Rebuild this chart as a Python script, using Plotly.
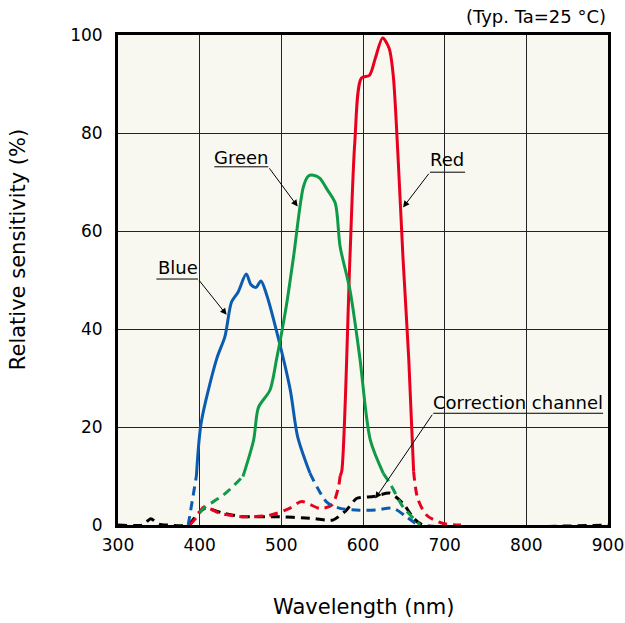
import plotly.graph_objects as go

# ---- data (wavelength nm, relative sensitivity %) ----
blue_wl  = [386, 396, 402, 421, 431, 439, 447, 457, 463, 469, 475, 482, 498, 511, 520, 535, 556, 572, 596, 617, 637, 653, 667]
blue_val = [0, 10, 21, 34, 38.5, 45.5, 47.5, 51.2, 49, 48.5, 49.8, 47, 37, 27.5, 18, 10.6, 4.6, 3.4, 3.0, 3.1, 3.4, 1.7, 0]
blue_solid = (396, 535)

green_wl  = [400, 407, 429, 453, 466, 472, 486, 494, 506, 515, 527, 533, 539, 547, 556, 566, 572, 584, 596, 609, 625, 633, 649, 670]
green_val = [2.5, 3.7, 6.1, 9.9, 17.3, 24, 27.5, 33.7, 44.6, 54.8, 69, 71.2, 71.4, 70.8, 68.5, 65.7, 56.8, 48, 34.3, 17.3, 10.5, 8.5, 3.7, 0]
green_solid = (453, 625)

red_wl  = [388, 398, 405, 425, 453, 486, 510, 525, 547, 562, 570, 572, 574, 584, 590, 598, 608, 615, 624, 632, 637, 643, 649, 656, 662, 667, 678, 698, 720]
red_val = [0, 2, 3.7, 2.4, 1.7, 2.0, 3.4, 4.8, 3.4, 4.1, 7.8, 10, 11, 54.5, 78.2, 91.2, 91.8, 95.2, 99.4, 97.3, 91.8, 74.8, 54.4, 34, 10.9, 5.4, 2, 0.3, 0]
red_solid = (572, 662)

corr_wl  = [300, 330, 340, 350, 360, 386, 398, 407, 429, 453, 494, 535, 563, 580, 592, 613, 633, 649, 662, 673, 900]
corr_val = [0, 0, 1.3, 0.2, 0, 0, 2.4, 3.4, 2.4, 1.7, 1.7, 1.4, 1.0, 3.1, 5.4, 5.8, 6.5, 4.4, 1.4, 0, 0]

x_ticks = [300, 400, 500, 600, 700, 800, 900]
y_ticks = [0, 20, 40, 60, 80, 100]

BLUE = "#0b5cb0"
GREEN = "#0f9a48"
RED = "#e8001f"
BLACK = "#000000"
PLOT_BG = "#f8f7f0"
DASH = "9px,6px"
FONT = "DejaVu Sans"


def split(wl, val, solid):
    lo, hi = solid
    pre = [(w, v) for w, v in zip(wl, val) if w <= lo]
    mid = [(w, v) for w, v in zip(wl, val) if lo <= w <= hi]
    post = [(w, v) for w, v in zip(wl, val) if w >= hi]
    return pre, mid, post


fig = go.Figure()


def add_series(wl, val, solid, color):
    pre, mid, post = split(wl, val, solid)
    for seg, dash in ((pre, DASH), (post, DASH), (mid, "solid")):
        if len(seg) < 2:
            continue
        fig.add_trace(go.Scatter(
            x=[p[0] for p in seg], y=[p[1] for p in seg], mode="lines",
            line=dict(color=color, width=3, dash=dash, shape="spline", smoothing=0.8),
            showlegend=False, hoverinfo="skip"))


fig.add_trace(go.Scatter(x=corr_wl, y=corr_val, mode="lines",
                         line=dict(color=BLACK, width=3, dash=DASH, shape="spline", smoothing=0.6),
                         showlegend=False, hoverinfo="skip"))
add_series(red_wl, red_val, red_solid, RED)
add_series(blue_wl, blue_val, blue_solid, BLUE)
add_series(green_wl, green_val, green_solid, GREEN)

# ---- labels with leader lines ----
labels = [
    # text, text x, text y, underline x0, x1, underline y, arrow tip x, tip y
    ("Blue", 374, 52.6, 347, 398, 50.2, 433, 42.9),
    ("Green", 451, 75.1, 418, 484, 73.1, 520, 65),
    ("Red", 703, 74.5, 682, 725, 72.0, 649, 64.8),
    ("Correction channel", 790, 24.9, 686, 894, 22.8, 615, 5.4),
]
for txt, tx, ty, ux0, ux1, uy, px, py in labels:
    # background patch that interrupts the grid behind the label
    fig.add_shape(type="rect", x0=ux0, x1=ux1, y0=uy - 1.2, y1=ty + 2.4, xref="x", yref="y",
                  fillcolor=PLOT_BG, line=dict(width=0), layer="below")
    fig.add_shape(type="line", x0=ux0, x1=ux1, y0=uy, y1=uy, xref="x", yref="y",
                  line=dict(color="black", width=1), layer="below")
    fig.add_annotation(x=tx, y=ty, text=txt, showarrow=False, xref="x", yref="y",
                       yanchor="middle", xanchor="center",
                       font=dict(family=FONT, size=18, color="black"))
    ex = ux1 if px > ux1 else ux0
    fig.add_annotation(x=px, y=py, ax=ex, ay=uy, axref="x", ayref="y", xref="x", yref="y",
                       text="", showarrow=True, arrowhead=2, arrowsize=1.3,
                       arrowwidth=1, arrowcolor="black", standoff=0)

fig.add_annotation(x=1, y=1.037, xref="paper", yref="paper", text="(Typ. Ta=25 °C)",
                   showarrow=False, xanchor="right", yanchor="middle",
                   font=dict(family=FONT, size=18, color="black"))

# axis titles
fig.add_annotation(x=0.5, y=-0.167, xref="paper", yref="paper", text="Wavelength (nm)",
                   showarrow=False, xanchor="center", yanchor="middle",
                   font=dict(family=FONT, size=21, color="black"))
fig.add_annotation(x=-0.204, y=0.561, xref="paper", yref="paper", text="Relative sensitivity (%)",
                   showarrow=False, xanchor="center", yanchor="middle", textangle=-90,
                   font=dict(family=FONT, size=21, color="black"))

fig.update_xaxes(range=[300, 900], tickvals=x_ticks, showgrid=True, gridcolor="#222",
                 gridwidth=1, showline=True, linecolor="black", linewidth=3, mirror=True,
                 ticks="outside", ticklen=3, tickcolor="rgba(0,0,0,0)", zeroline=False,
                 automargin=False,
                 tickfont=dict(family=FONT, size=17, color="black"))
fig.update_yaxes(range=[0, 100], tickvals=y_ticks, showgrid=True, gridcolor="#222",
                 gridwidth=1, showline=True, linecolor="black", linewidth=3, mirror=True,
                 ticks="outside", ticklen=9, tickcolor="rgba(0,0,0,0)", zeroline=False,
                 automargin=False,
                 tickfont=dict(family=FONT, size=17, color="black"))

fig.update_layout(width=625, height=623, margin=dict(l=118, r=17, t=35, b=98),
                  paper_bgcolor="white", plot_bgcolor=PLOT_BG,
                  font=dict(family=FONT, color="black"))

fig.write_html("out.html", config={"displayModeBar": False},
               post_script="document.body.style.margin='0px';document.body.style.padding='0px';")
